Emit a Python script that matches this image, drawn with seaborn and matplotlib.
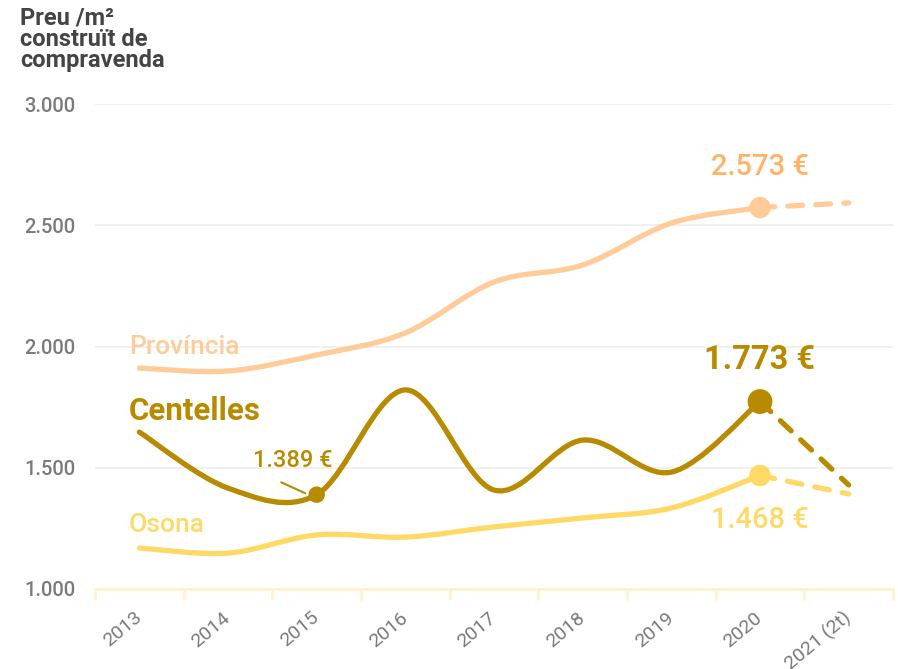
import numpy as np
import pandas as pd
import matplotlib
matplotlib.use("Agg")
import matplotlib.pyplot as plt
from matplotlib.path import Path
from matplotlib.patches import PathPatch
import seaborn as sns

years = ["2013", "2014", "2015", "2016", "2017", "2018", "2019", "2020", "2021 (2t)"]
provincia = [1911, 1899, 1965, 2056, 2266, 2336, 2509, 2573, 2592]
centelles = [1647, 1416, 1389, 1821, 1408, 1614, 1482, 1773, 1429]
osona = [1169, 1148, 1223, 1214, 1256, 1293, 1334, 1468, 1392]

c_prov = "#FFCC99"
c_prov_txt = "#FFB366"
c_cent = "#B88A00"
c_oso = "#FFD966"
grey = "#7a7a7a"

sns.set_theme(style="white")
plt.rcParams["font.family"] = ["Roboto", "DejaVu Sans"]

fig = plt.figure(figsize=(8.98, 6.69), dpi=100)
ax = fig.add_axes([95 / 898, 1 - 589 / 669, 798 / 898, 485 / 669])


def smooth_path(xs, ys):
    # catmull-rom through the points, drawn as bezier curves
    pts = np.column_stack([xs, ys]).astype(float)
    pad = np.vstack([pts[0], pts, pts[-1]])
    verts = [pts[0]]
    codes = [Path.MOVETO]
    for i in range(len(pts) - 1):
        p0, p1, p2, p3 = pad[i], pad[i + 1], pad[i + 2], pad[i + 3]
        verts += [p1 + (p2 - p0) / 6, p2 - (p3 - p1) / 6, p2]
        codes += [Path.CURVE4] * 3
    return Path(verts, codes)


x = np.arange(len(years))
solid = slice(0, 8)
for vals, col in [(provincia, c_prov), (osona, c_oso), (centelles, c_cent)]:
    ax.add_patch(PathPatch(smooth_path(x[solid], vals[solid]), fill=False,
                           edgecolor=col, lw=3.8, capstyle="round", zorder=3))
    df = pd.DataFrame({"x": x[7:], "y": vals[7:]})
    sns.lineplot(data=df, x="x", y="y", ax=ax, color=col, lw=3.8,
                 dashes=False, zorder=3)
    ax.lines[-1].set_dashes([2.8, 2.5])
    ax.lines[-1].set_dash_capstyle("round")

# markers
sns.scatterplot(x=[7, 7, 7, 2], y=[provincia[7], osona[7], centelles[7], centelles[2]],
                hue=["p", "o", "c", "c2"], palette=[c_prov, c_oso, c_cent, c_cent],
                size=["p", "o", "c", "c2"], sizes=[240, 240, 320, 140],
                legend=False, ax=ax, edgecolor="none", zorder=4)

ax.set_xlim(-0.5, 8.5)
ax.set_ylim(1000, 3000)
ax.set_yticks([1000, 1500, 2000, 2500, 3000])
ax.set_yticklabels(["1.000", "1.500", "2.000", "2.500", "3.000"], fontweight="medium")
ax.yaxis.grid(True, color="#eeeeee", lw=1.2)
ax.set_xticks(x)
ax.set_xticklabels(years, rotation=40, ha="right", va="center", rotation_mode="anchor")
ax.set_xticks(np.arange(-0.5, 9, 1), minor=True)
ax.tick_params(axis="x", which="major", bottom=False, length=0, pad=19, labelsize=14, labelcolor=grey)
ax.tick_params(axis="x", which="minor", bottom=True, length=8, width=2, color="#FFF2CC", direction="out")
ax.tick_params(axis="y", length=0, pad=14, labelsize=14.5, labelcolor=grey)
for s in ["top", "right", "left"]:
    ax.spines[s].set_visible(False)
ax.spines["bottom"].set_color("#FFF2CC")
ax.spines["bottom"].set_linewidth(2)
ax.set_xlabel("")
ax.set_ylabel("")
ax.set_axisbelow(True)

# labels
ax.text(-0.12, 2000, "Província", color=c_prov, fontsize=19, fontweight="medium", va="center", ha="left")
ax.text(-0.12, 1735, "Centelles", color=c_cent, fontsize=22.5, fontweight="semibold", va="center", ha="left")
ax.text(-0.12, 1265, "Osona", color=c_oso, fontsize=19, fontweight="medium", va="center", ha="left")
ax.text(7, 2740, "2.573 €", color=c_prov_txt, fontsize=21, fontweight="medium", ha="center", va="center")
ax.text(7, 1945, "1.773 €", color=c_cent, fontsize=23.5, fontweight="semibold", ha="center", va="center")
ax.text(7, 1285, "1.468 €", color=c_oso, fontsize=21, fontweight="medium", ha="center", va="center")
ax.text(1.73, 1530, "1.389 €", color=c_cent, fontsize=17, fontweight="medium", ha="center", va="center")
ax.plot([1.6, 1.87], [1440, 1395], color=c_cent, lw=1.5, zorder=3)

fig.text(20 / 898, 1 - 6 / 669, "Preu /m²\nconstruït de\ncompravenda", color="#444444",
         fontsize=17, fontweight="semibold", va="top", ha="left", linespacing=0.92)

fig.savefig("out.png", dpi=100, facecolor="white")
